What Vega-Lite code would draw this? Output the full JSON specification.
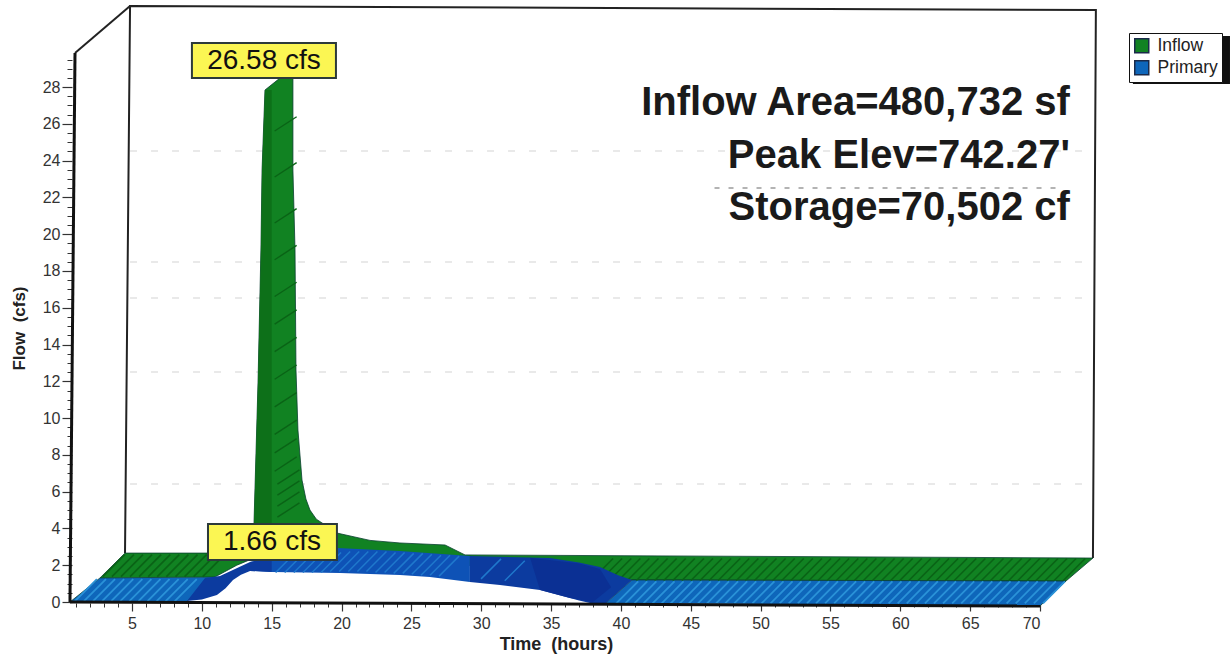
{"$schema":"https://vega.github.io/schema/vega-lite/v6.json","width":968,"height":548,"autosize":"none","padding":{"left":72,"top":54,"right":190,"bottom":57},"background":"white","config":{"font":"Liberation Sans","view":{"stroke":null}},
"datasets":{
"frame":[{"part":"wall","seq":1,"time":4.5,"flow":2.66},{"part":"wall","seq":2,"time":4.86,"flow":32.41},{"part":"wall","seq":3,"time":74.0,"flow":32.19},{"part":"wall","seq":4,"time":73.79,"flow":2.39},{"part":"slant","seq":1,"time":0.92,"flow":29.85},{"part":"slant","seq":2,"time":4.86,"flow":32.41},{"part":"yline","seq":1,"time":0.56,"flow":0},{"part":"yline","seq":2,"time":0.92,"flow":29.85},{"part":"xline","seq":1,"time":0.56,"flow":0},{"part":"xline","seq":2,"time":70,"flow":-0.22}],
"grid":[{"time":4.86,"time2":73.6,"flow":24.52},{"time":4.86,"time2":73.6,"flow":18.49},{"time":4.86,"time2":73.6,"flow":16.53},{"time":4.86,"time2":73.6,"flow":12.51},{"time":4.86,"time2":73.6,"flow":6.42}],
"gridDark":[{"time":46.7,"time2":71.4,"flow":22.51}],
"ribbons":[
{"series":"Inflow","part":"i","seq":1,"time":2.71,"flow":1.31},{"series":"Inflow","part":"i","seq":2,"time":4.5,"flow":2.66},{"series":"Inflow","part":"i","seq":3,"time":13.73,"flow":2.66},{"series":"Inflow","part":"i","seq":4,"time":13.73,"flow":4.19},{"series":"Inflow","part":"i","seq":5,"time":14.02,"flow":11.91},{"series":"Inflow","part":"i","seq":6,"time":14.23,"flow":19.14},{"series":"Inflow","part":"i","seq":7,"time":14.31,"flow":23.49},{"series":"Inflow","part":"i","seq":8,"time":14.52,"flow":27.84},{"series":"Inflow","part":"i","seq":9,"time":15.59,"flow":28.49},{"series":"Inflow","part":"i","seq":10,"time":16.52,"flow":28.49},{"series":"Inflow","part":"i","seq":11,"time":16.52,"flow":23.49},{"series":"Inflow","part":"i","seq":12,"time":16.67,"flow":19.14},{"series":"Inflow","part":"i","seq":13,"time":16.74,"flow":12.62},{"series":"Inflow","part":"i","seq":14,"time":16.88,"flow":9.35},{"series":"Inflow","part":"i","seq":15,"time":17.17,"flow":6.63},{"series":"Inflow","part":"i","seq":16,"time":17.45,"flow":5.6},{"series":"Inflow","part":"i","seq":17,"time":17.74,"flow":5.0},{"series":"Inflow","part":"i","seq":18,"time":18.2,"flow":4.5},{"series":"Inflow","part":"i","seq":19,"time":18.82,"flow":4.19},{"series":"Inflow","part":"i","seq":20,"time":19.67,"flow":3.75},{"series":"Inflow","part":"i","seq":21,"time":22.04,"flow":3.35},{"series":"Inflow","part":"i","seq":22,"time":24.18,"flow":3.21},{"series":"Inflow","part":"i","seq":23,"time":27.41,"flow":3.1},{"series":"Inflow","part":"i","seq":24,"time":28.84,"flow":2.56},{"series":"Inflow","part":"i","seq":25,"time":73.79,"flow":2.39},{"series":"Inflow","part":"i","seq":26,"time":71.86,"flow":1.14},{"series":"Inflow","part":"i","seq":27,"time":40.79,"flow":1.2},{"series":"Inflow","part":"i","seq":28,"time":36,"flow":1.5},{"series":"Inflow","part":"i","seq":29,"time":29,"flow":2.0},{"series":"Inflow","part":"i","seq":30,"time":15,"flow":2.0},{"series":"Inflow","part":"i","seq":31,"time":13.45,"flow":2.3},{"series":"Inflow","part":"i","seq":32,"time":12.5,"flow":2.0},{"series":"Inflow","part":"i","seq":33,"time":10.94,"flow":1.36},
{"series":"Primary","part":"a","seq":1,"time":0.56,"flow":0},{"series":"Primary","part":"a","seq":2,"time":2.71,"flow":1.31},{"series":"Primary","part":"a","seq":3,"time":10.94,"flow":1.36},{"series":"Primary","part":"a","seq":4,"time":8.94,"flow":0.05},
{"series":"Primary","part":"b","seq":1,"time":38.93,"flow":-0.05},{"series":"Primary","part":"b","seq":2,"time":40.79,"flow":1.2},{"series":"Primary","part":"b","seq":3,"time":71.86,"flow":1.14},{"series":"Primary","part":"b","seq":4,"time":70,"flow":-0.22}],
"spikeShade":[{"part":"s","seq":1,"time":13.73,"flow":4.19},{"part":"s","seq":2,"time":14.02,"flow":11.91},{"part":"s","seq":3,"time":14.23,"flow":19.14},{"part":"s","seq":4,"time":14.31,"flow":23.49},{"part":"s","seq":5,"time":14.52,"flow":27.84},{"part":"s","seq":6,"time":15.0,"flow":27.84},{"part":"s","seq":7,"time":15.0,"flow":4.19}],
"raised":[{"part":"m","seq":1,"time":13.45,"flow":2.18},{"part":"m","seq":2,"time":15,"flow":2.39},{"part":"m","seq":3,"time":19.67,"flow":2.94},{"part":"m","seq":4,"time":24.18,"flow":2.77},{"part":"m","seq":5,"time":29.19,"flow":2.5},{"part":"m","seq":6,"time":29.19,"flow":1.09},{"part":"m","seq":7,"time":26.33,"flow":1.36},{"part":"m","seq":8,"time":24.18,"flow":1.47},{"part":"m","seq":9,"time":19.89,"flow":1.58},{"part":"m","seq":10,"time":15,"flow":1.63},{"part":"m","seq":11,"time":13.45,"flow":1.69}],
"navy":[{"part":"l","seq":1,"time":8.94,"flow":0.05},{"part":"l","seq":2,"time":10.23,"flow":1.31},{"part":"l","seq":3,"time":11.3,"flow":1.41},{"part":"l","seq":4,"time":13.45,"flow":2.18},{"part":"l","seq":5,"time":15,"flow":2.39},{"part":"l","seq":6,"time":15,"flow":1.63},{"part":"l","seq":7,"time":13.45,"flow":1.69},{"part":"l","seq":8,"time":12.8,"flow":1.48},{"part":"l","seq":9,"time":12.23,"flow":1.2},{"part":"l","seq":10,"time":11.7,"flow":0.75},{"part":"l","seq":11,"time":11.08,"flow":0.38},{"part":"l","seq":12,"time":10,"flow":0.14},
{"part":"r","seq":1,"time":29.19,"flow":2.5},{"part":"r","seq":2,"time":34.92,"flow":2.39},{"part":"r","seq":3,"time":37,"flow":2.15},{"part":"r","seq":4,"time":38.5,"flow":1.9},{"part":"r","seq":5,"time":39.8,"flow":1.45},{"part":"r","seq":6,"time":40.79,"flow":1.2},{"part":"r","seq":7,"time":38.93,"flow":-0.05},{"part":"r","seq":8,"time":37.78,"flow":-0.05},{"part":"r","seq":9,"time":37,"flow":0.08},{"part":"r","seq":10,"time":36.35,"flow":0.22},{"part":"r","seq":11,"time":34.21,"flow":0.65},{"part":"r","seq":12,"time":31.34,"flow":0.92},{"part":"r","seq":13,"time":29.19,"flow":1.09}],
"navyDeep":[{"part":"d","seq":1,"time":33.5,"flow":2.4},{"part":"d","seq":2,"time":37,"flow":2.1},{"part":"d","seq":3,"time":38.5,"flow":1.8},{"part":"d","seq":4,"time":39.3,"flow":0.8},{"part":"d","seq":5,"time":38.0,"flow":0.0},{"part":"d","seq":6,"time":36.35,"flow":0.22},{"part":"d","seq":7,"time":34.21,"flow":0.65}],
"hatchGreen":[{"time":3.7,"flow":1.98},{"time":4.35,"flow":1.98},{"time":5,"flow":1.98},{"time":5.65,"flow":1.98},{"time":6.3,"flow":1.98},{"time":6.95,"flow":1.98},{"time":7.6,"flow":1.98},{"time":8.25,"flow":1.98},{"time":8.9,"flow":1.98},{"time":9.55,"flow":1.98},{"time":10.2,"flow":1.98},{"time":10.85,"flow":1.98},{"time":38.65,"flow":1.77},{"time":39.3,"flow":1.77},{"time":39.95,"flow":1.77},{"time":40.6,"flow":1.77},{"time":41.25,"flow":1.77},{"time":41.9,"flow":1.77},{"time":42.55,"flow":1.77},{"time":43.2,"flow":1.77},{"time":43.85,"flow":1.77},{"time":44.5,"flow":1.77},{"time":45.15,"flow":1.77},{"time":45.8,"flow":1.77},{"time":46.45,"flow":1.77},{"time":47.1,"flow":1.77},{"time":47.75,"flow":1.77},{"time":48.4,"flow":1.77},{"time":49.05,"flow":1.77},{"time":49.7,"flow":1.77},{"time":50.35,"flow":1.77},{"time":51,"flow":1.77},{"time":51.65,"flow":1.77},{"time":52.3,"flow":1.77},{"time":52.95,"flow":1.77},{"time":53.6,"flow":1.77},{"time":54.25,"flow":1.77},{"time":54.9,"flow":1.77},{"time":55.55,"flow":1.77},{"time":56.2,"flow":1.77},{"time":56.85,"flow":1.77},{"time":57.5,"flow":1.77},{"time":58.15,"flow":1.77},{"time":58.8,"flow":1.77},{"time":59.45,"flow":1.77},{"time":60.1,"flow":1.77},{"time":60.75,"flow":1.77},{"time":61.4,"flow":1.77},{"time":62.05,"flow":1.77},{"time":62.7,"flow":1.77},{"time":63.35,"flow":1.77},{"time":64,"flow":1.77},{"time":64.65,"flow":1.77},{"time":65.3,"flow":1.77},{"time":65.95,"flow":1.77},{"time":66.6,"flow":1.77},{"time":67.25,"flow":1.77},{"time":67.9,"flow":1.77},{"time":68.55,"flow":1.77},{"time":69.2,"flow":1.77},{"time":69.85,"flow":1.77},{"time":70.5,"flow":1.77},{"time":71.15,"flow":1.77},{"time":71.8,"flow":1.77},{"time":72.45,"flow":1.77}],
"hatchSpike":[{"time":16,"flow":26},{"time":16,"flow":23.5},{"time":16,"flow":21},{"time":16,"flow":19},{"time":16,"flow":17},{"time":16,"flow":15.5},{"time":16,"flow":14},{"time":16,"flow":12.5},{"time":16,"flow":11},{"time":16,"flow":9.5},{"time":16,"flow":8.5},{"time":16,"flow":7.5},{"time":16.2,"flow":6.8},{"time":16.2,"flow":6.2},{"time":16.2,"flow":5.6},{"time":16.2,"flow":5}],
"hatchBlue":[{"time":1.7,"flow":0.65},{"time":2.35,"flow":0.65},{"time":3,"flow":0.65},{"time":3.65,"flow":0.65},{"time":4.3,"flow":0.65},{"time":4.95,"flow":0.65},{"time":5.6,"flow":0.65},{"time":6.25,"flow":0.65},{"time":6.9,"flow":0.65},{"time":7.55,"flow":0.65},{"time":8.2,"flow":0.65},{"time":8.85,"flow":0.65},{"time":40.45,"flow":0.52},{"time":41.1,"flow":0.52},{"time":41.75,"flow":0.52},{"time":42.4,"flow":0.52},{"time":43.05,"flow":0.52},{"time":43.7,"flow":0.52},{"time":44.35,"flow":0.52},{"time":45,"flow":0.52},{"time":45.65,"flow":0.52},{"time":46.3,"flow":0.52},{"time":46.95,"flow":0.52},{"time":47.6,"flow":0.52},{"time":48.25,"flow":0.52},{"time":48.9,"flow":0.52},{"time":49.55,"flow":0.52},{"time":50.2,"flow":0.52},{"time":50.85,"flow":0.52},{"time":51.5,"flow":0.52},{"time":52.15,"flow":0.52},{"time":52.8,"flow":0.52},{"time":53.45,"flow":0.52},{"time":54.1,"flow":0.52},{"time":54.75,"flow":0.52},{"time":55.4,"flow":0.52},{"time":56.05,"flow":0.52},{"time":56.7,"flow":0.52},{"time":57.35,"flow":0.52},{"time":58,"flow":0.52},{"time":58.65,"flow":0.52},{"time":59.3,"flow":0.52},{"time":59.95,"flow":0.52},{"time":60.6,"flow":0.52},{"time":61.25,"flow":0.52},{"time":61.9,"flow":0.52},{"time":62.55,"flow":0.52},{"time":63.2,"flow":0.52},{"time":63.85,"flow":0.52},{"time":64.5,"flow":0.52},{"time":65.15,"flow":0.52},{"time":65.8,"flow":0.52},{"time":66.45,"flow":0.52},{"time":67.1,"flow":0.52},{"time":67.75,"flow":0.52},{"time":68.4,"flow":0.52},{"time":69.05,"flow":0.52},{"time":69.7,"flow":0.52},{"time":70.35,"flow":0.52},{"time":71,"flow":0.52}],
"hatchRaised":[{"time":16,"flow":2.15},{"time":16.65,"flow":2.15},{"time":17.3,"flow":2.15},{"time":17.95,"flow":2.15},{"time":18.6,"flow":2.15},{"time":19.25,"flow":2.15},{"time":19.9,"flow":2.2},{"time":20.55,"flow":2.2},{"time":21.2,"flow":2.2},{"time":21.85,"flow":2.2},{"time":22.5,"flow":2.2},{"time":23.15,"flow":2.15},{"time":23.8,"flow":2.15},{"time":24.45,"flow":2.1},{"time":25.1,"flow":2.1},{"time":25.75,"flow":2.05},{"time":26.4,"flow":2.0},{"time":27.05,"flow":2.0},{"time":27.7,"flow":1.95},{"time":30.7,"flow":1.8},{"time":32.4,"flow":1.7}],
"notes":[{"label":"Inflow Area=480,732 sf","time":72.14,"flow":26.48},{"label":"Peak Elev=742.27'","time":72.14,"flow":23.6},{"label":"Storage=70,502 cf","time":72.14,"flow":20.77}],
"callouts":[{"label":"26.58 cfs","time":9.29,"time2":19.6,"flow":30.4,"flow2":28.5,"textTime":14.45,"textFlow":29.4},{"label":"1.66 cfs","time":10.44,"time2":19.67,"flow":4.24,"flow2":2.28,"textTime":15.02,"textFlow":3.24}],
"legendShadow":[{"time":76.65,"time2":83.6,"flow":30.78,"flow2":28.17}]
},
"encoding":{"x":{"field":"time","type":"quantitative","scale":{"domain":[0.705,70],"nice":false,"zero":false},"axis":null},"y":{"field":"flow","type":"quantitative","scale":{"domain":[0,29.8],"nice":false,"zero":false},"axis":null}},
"resolve":{"axis":{"x":"independent","y":"independent"}},
"layer":[
{"data":{"name":"grid"},"mark":{"type":"rule","stroke":"#e2e2e2","strokeWidth":1.5,"strokeDash":[7,14]},"encoding":{"x":{"field":"time","type":"quantitative","scale":{"domain":[0.705,70],"nice":false,"zero":false},"axis":{"orient":"bottom","offset":1,"values":[1,2,3,4,6,7,8,9,11,12,13,14,16,17,18,19,21,22,23,24,26,27,28,29,31,32,33,34,36,37,38,39,41,42,43,44,46,47,48,49,51,52,53,54,56,57,58,59,61,62,63,64,66,67,68,69],"labels":false,"domain":false,"grid":false,"title":null,"tickSize":4,"tickColor":"#333","tickWidth":1}},"y":{"field":"flow","type":"quantitative","scale":{"domain":[0,29.8],"nice":false,"zero":false},"axis":{"orient":"left","values":[0.5,1,1.5,2.5,3,3.5,4.5,5,5.5,6.5,7,7.5,8.5,9,9.5,10.5,11,11.5,12.5,13,13.5,14.5,15,15.5,16.5,17,17.5,18.5,19,19.5,20.5,21,21.5,22.5,23,23.5,24.5,25,25.5,26.5,27,27.5,28.5,29,29.5],"labels":false,"domain":false,"grid":false,"title":null,"tickSize":5,"tickColor":"#333","tickWidth":1}},"x2":{"field":"time2"}}},
{"data":{"name":"gridDark"},"mark":{"type":"rule","stroke":"#9a9a9a","strokeWidth":1.5,"strokeDash":[5,9]},"encoding":{"x2":{"field":"time2"}}},
{"data":{"name":"frame"},"transform":[{"filter":"datum.part==='wall'||datum.part==='slant'"}],"mark":{"type":"line","stroke":"#222","strokeWidth":2},"encoding":{"detail":{"field":"part"},"order":{"field":"seq"}}},
{"data":{"name":"ribbons"},"mark":{"type":"line","filled":true,"stroke":"#0a3f30","strokeWidth":0.8},"encoding":{"detail":{"field":"part"},"order":{"field":"seq"},"color":{"field":"series","type":"nominal","scale":{"domain":["Inflow","Primary"],"range":["#118222","#0e66ba"]},"legend":{"orient":"none","legendX":1057,"legendY":-21,"title":null,"symbolType":"square","symbolSize":196,"symbolStrokeColor":"#1a2a4a","labelFontSize":17.5,"labelColor":"#222","labelOffset":7,"rowPadding":1,"padding":4,"strokeColor":"#111","fillColor":"white"}}}},
{"data":{"name":"spikeShade"},"mark":{"type":"line","filled":true,"fill":"#0d7019","stroke":null},"encoding":{"detail":{"field":"part"},"order":{"field":"seq"}}},
{"data":{"name":"hatchGreen"},"mark":{"type":"point","shape":"M-1,1L1,-1","size":484,"filled":false,"stroke":"#0a6316","strokeWidth":1.6,"opacity":1}},
{"data":{"name":"hatchSpike"},"mark":{"type":"point","shape":"M-1,0.65L1,-0.65","size":484,"filled":false,"stroke":"#0a6316","strokeWidth":1.4,"opacity":1}},
{"data":{"name":"raised"},"mark":{"type":"line","filled":true,"fill":"#0e52b6","stroke":null},"encoding":{"detail":{"field":"part"},"order":{"field":"seq"}}},
{"data":{"name":"navy"},"mark":{"type":"line","filled":true,"fill":"#0c3b9f","stroke":null},"encoding":{"detail":{"field":"part"},"order":{"field":"seq"}}},
{"data":{"name":"navyDeep"},"mark":{"type":"line","filled":true,"fill":"#0b3094","stroke":null},"encoding":{"detail":{"field":"part"},"order":{"field":"seq"}}},
{"data":{"name":"hatchBlue"},"mark":{"type":"point","shape":"M-1,1L1,-1","size":484,"filled":false,"stroke":"#2a92d8","strokeWidth":1.8,"opacity":1}},
{"data":{"name":"hatchRaised"},"mark":{"type":"point","shape":"M-1,1L1,-1","size":400,"filled":false,"stroke":"#1f78cc","strokeWidth":1.5,"opacity":1}},
{"data":{"name":"frame"},"transform":[{"filter":"datum.part==='yline'||datum.part==='xline'"}],"mark":{"type":"line","stroke":"#111","strokeWidth":3},"encoding":{"detail":{"field":"part"},"order":{"field":"seq"},"x":{"field":"time","type":"quantitative","scale":{"domain":[0.705,70],"nice":false,"zero":false},"axis":{"orient":"bottom","offset":1,"values":[5,10,15,20,25,30,35,40,45,50,55,60,65,70],"domain":false,"grid":false,"title":"Time\u00a0\u00a0(hours)","titleFontSize":18,"titleFontWeight":"bold","titleColor":"#222","titlePadding":4,"labelFontSize":16,"labelColor":"#333","labelPadding":4,"tickSize":8,"tickColor":"#333","tickWidth":1.2}},"y":{"field":"flow","type":"quantitative","scale":{"domain":[0,29.8],"nice":false,"zero":false},"axis":{"orient":"left","values":[0,2,4,6,8,10,12,14,16,18,20,22,24,26,28],"domain":false,"grid":false,"title":"Flow\u00a0\u00a0(cfs)","titleFontSize":17,"titleFontWeight":"bold","titleColor":"#222","titlePadding":14,"labelFontSize":16,"labelColor":"#333","labelPadding":2,"tickSize":10,"tickColor":"#333","tickWidth":1.2}}}},
{"data":{"name":"legendShadow"},"mark":{"type":"rect","fill":"#111"},"encoding":{"x2":{"field":"time2"},"y2":{"field":"flow2"}}},
{"data":{"name":"callouts"},"mark":{"type":"rect","fill":"#fbf653","stroke":"#2c3a3a","strokeWidth":2},"encoding":{"x2":{"field":"time2"},"y2":{"field":"flow2"}}},
{"data":{"name":"callouts"},"mark":{"type":"text","fontSize":28,"color":"#111","align":"center","baseline":"middle"},"encoding":{"x":{"field":"textTime","type":"quantitative"},"y":{"field":"textFlow","type":"quantitative"},"text":{"field":"label"}}},
{"data":{"name":"notes"},"mark":{"type":"text","fontSize":40,"fontWeight":"bold","color":"#1a1a1a","align":"right","baseline":"alphabetic"},"encoding":{"text":{"field":"label"}}}
]}
